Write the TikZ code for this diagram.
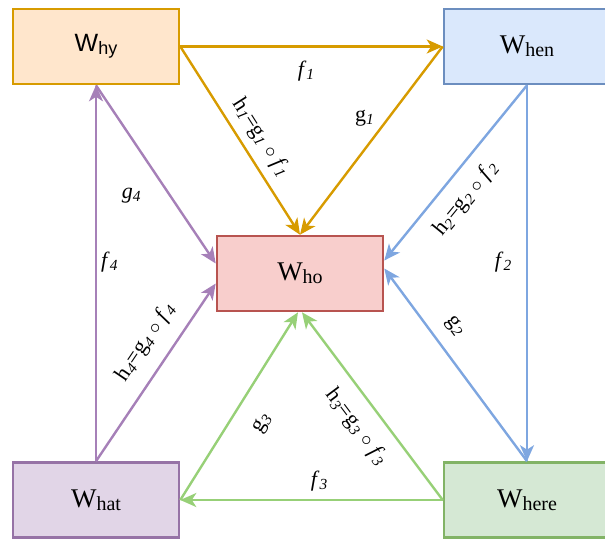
\documentclass[tikz,border=0pt]{standalone}
\usepackage{fontspec}
\setmainfont{Liberation Serif}
\newfontfamily\arialfont{Liberation Sans}
\usetikzlibrary{arrows.meta}

\definecolor{orgline}{HTML}{D79B00}
\definecolor{orgfill}{HTML}{FFE6CC}
\definecolor{bluline}{HTML}{6C8EBF}
\definecolor{blufill}{HTML}{DAE8FC}
\definecolor{bluarr}{HTML}{7EA6E0}
\definecolor{redline}{HTML}{B85450}
\definecolor{redfill}{HTML}{F8CECC}
\definecolor{grnline}{HTML}{82B366}
\definecolor{grnfill}{HTML}{D5E8D4}
\definecolor{grnarr}{HTML}{97D077}
\definecolor{purline}{HTML}{9673A6}
\definecolor{purfill}{HTML}{E1D5E7}
\definecolor{purarr}{HTML}{A680B8}

% box text W with a lowered index, and italic subscripts for the labels
\newcommand{\wsub}[1]{W\raisebox{-3pt}{\fontsize{20}{22}\selectfont #1}}
\newcommand{\isub}[1]{\textsubscript{\textit{#1}}}

\begin{document}
\begin{tikzpicture}[x=1pt, y=-1pt,
  box/.style={draw, line width=2.6pt, minimum width=166pt, minimum height=75pt,
    inner sep=0pt, font=\fontsize{27}{30}\selectfont},
  conn/.style={line width=2.4pt, -{Stealth[length=16pt, width=14pt, inset=4.5pt]}},
  lbl/.style={inner sep=1pt, text=black, font=\fontsize{22}{26}\selectfont}
]
\useasboundingbox (0,0) rectangle (605,539);
% the five boxes
\node[box, draw=orgline, fill=orgfill] (why) at (96,46.5)
  {\arialfont\fontsize{25}{28}\selectfont W\raisebox{-3pt}{\fontsize{18}{20}\selectfont hy}};
\node[box, draw=bluline, fill=blufill] (when) at (527,46.5) {\wsub{hen}};
\node[box, draw=redline, fill=redfill] (who) at (300,273.5) {\wsub{ho}};
\node[box, draw=purline, fill=purfill] (what) at (96,500) {\wsub{hat}};
\node[box, draw=grnline, fill=grnfill] (where) at (527,500) {\wsub{here}};
% orange: hy -> hen -> ho
\draw[conn, orgline] (why.east) -- node[lbl, pos=.48, below=12pt] {\textit{f}\isub{1}} (when.west);
\draw[conn, orgline] (why.east) -- node[lbl, pos=.54, sloped, above=7pt]
  {h\isub{1}=g\isub{1} $\circ$ \textit{f}\isub{1}} (who.north);
\draw[conn, orgline] (when.west) -- node[lbl, pos=.38, left=12pt] {g\isub{1}} (who.north);
% blue: hen -> here -> ho
\draw[conn, bluarr] (when.south) -- node[lbl, pos=.47, left=13pt] {\textit{f}\isub{2}} (where.north);
\draw[conn, bluarr] (when.south) -- node[lbl, pos=.56, sloped, below=12pt]
  {h\isub{2}=g\isub{2} $\circ$ \textit{f}\isub{2}} ([yshift=13pt]who.east);
\draw[conn, bluarr] (where.north) -- node[lbl, pos=.63, sloped, above=12pt] {g\isub{2}} ([yshift=5pt]who.east);
% green: here -> hat -> ho
\draw[conn, grnarr] (where.west) -- node[lbl, pos=.47, above=7pt] {\textit{f}\isub{3}} (what.east);
\draw[conn, grnarr] (where.west) -- node[lbl, pos=.47, sloped, below=13pt]
  {h\isub{3}=g\isub{3} $\circ$ \textit{f}\isub{3}} ([xshift=2pt]who.south);
\draw[conn, grnarr] (what.east) -- node[lbl, pos=.49, sloped, below=19pt] {g\isub{3}} ([xshift=-2pt]who.south);
% purple: hat -> hy -> ho
\draw[conn, purarr] (what.north) -- node[lbl, pos=.53, right=3pt] {\textit{f}\isub{4}} (why.south);
\draw[conn, purarr] (what.north) -- node[lbl, pos=.59, sloped, above=13pt]
  {h\isub{4}=g\isub{4} $\circ$ \textit{f}\isub{4}} ([yshift=-10pt]who.west);
\draw[conn, purarr] (why.south) -- node[lbl, pos=.62, left=27pt] {\textit{g}\isub{4}} ([yshift=10pt]who.west);
\end{tikzpicture}
\end{document}
